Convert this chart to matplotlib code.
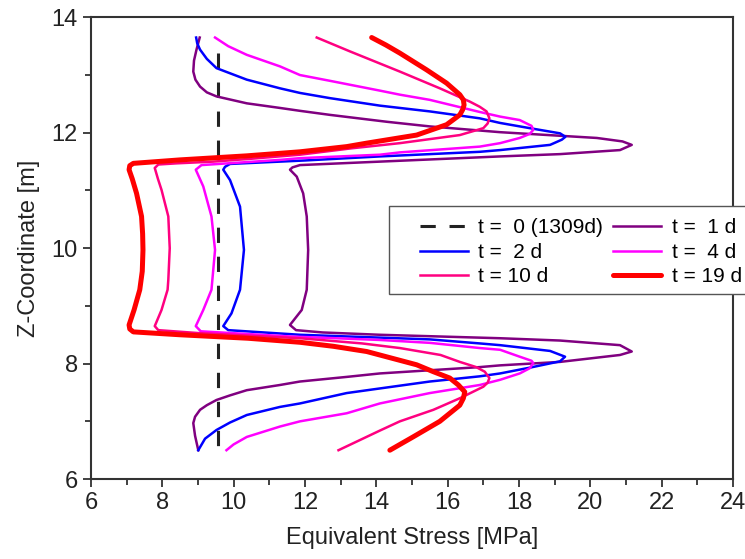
import matplotlib
matplotlib.use("Agg")
import matplotlib.pyplot as plt
from matplotlib.patches import Rectangle
from matplotlib.ticker import MultipleLocator

plt.rcParams['font.family'] = ['Liberation Sans', 'DejaVu Sans']

# stress profiles along z (z in m, stress in MPa)
z_t1 = [13.65, 13.44, 13.25, 13.06, 12.92, 12.80, 12.70, 12.63, 12.51, 12.43, 12.38, 12.31,
        12.19, 12.11, 12.01, 11.91, 11.85, 11.79, 11.70, 11.63, 11.59, 11.50, 11.44, 11.40,
        11.36, 11.24, 10.95, 10.55, 9.97, 9.28, 8.93, 8.67, 8.58, 8.54, 8.50, 8.44, 8.40,
        8.32, 8.21, 8.15, 8.03, 7.97, 7.94, 7.83, 7.77, 7.69, 7.63, 7.54, 7.45, 7.37, 7.28,
        7.20, 7.08, 6.97, 6.75, 6.50]
s_t1 = [9.05, 8.96, 8.89, 8.87, 8.93, 9.06, 9.25, 9.52, 10.37, 11.30, 11.86, 12.70,
        14.30, 15.50, 17.47, 20.18, 20.90, 21.16, 20.83, 19.15, 17.47, 14.10, 11.86, 11.65,
        11.58, 11.77, 11.95, 12.05, 12.09, 12.05, 11.91, 11.58, 11.75, 12.50, 14.10, 17.47,
        19.15, 20.83, 21.16, 20.83, 19.15, 17.47, 16.90, 14.10, 13.17, 11.86, 11.30, 10.37,
        9.90, 9.52, 9.25, 9.06, 8.92, 8.87, 8.92, 9.01]

z_t2 = [13.65, 13.55, 13.44, 13.28, 13.12, 12.92, 12.77, 12.69, 12.60, 12.47, 12.43, 12.37,
        12.25, 12.17, 12.08, 11.99, 11.93, 11.88, 11.79, 11.70, 11.67, 11.59, 11.52, 11.46,
        11.41, 11.36, 11.18, 10.72, 9.97, 9.28, 8.87, 8.65, 8.58, 8.50, 8.42, 8.35, 8.32,
        8.22, 8.12, 8.04, 7.93, 7.83, 7.78, 7.69, 7.57, 7.49, 7.31, 7.25, 7.11, 6.98, 6.85,
        6.70, 6.50]
s_t2 = [8.95, 8.98, 9.06, 9.25, 9.52, 10.37, 11.30, 11.86, 12.70, 14.10, 14.66, 15.50,
        16.90, 17.47, 18.30, 19.15, 19.30, 19.20, 18.87, 17.47, 16.90, 14.10, 12.00, 9.90,
        9.76, 9.71, 9.90, 10.18, 10.29, 10.18, 9.94, 9.71, 9.85, 11.86, 15.50, 16.90, 17.47,
        18.87, 19.29, 19.15, 18.30, 17.47, 16.90, 15.50, 14.10, 13.17, 11.86, 11.30, 10.37,
        9.90, 9.52, 9.20, 9.01]

z_t4 = [13.65, 13.50, 13.35, 13.15, 13.00, 12.90, 12.73, 12.66, 12.57, 12.36, 12.28, 12.22,
        12.12, 12.05, 11.98, 11.91, 11.82, 11.76, 11.66, 11.62, 11.56, 11.53, 11.44, 11.36,
        11.07, 10.55, 9.97, 9.28, 8.93, 8.65, 8.56, 8.47, 8.41, 8.36, 8.27, 8.24, 8.12, 8.05,
        8.01, 7.92, 7.83, 7.72, 7.63, 7.49, 7.31, 7.14, 7.00, 6.91, 6.73, 6.60, 6.50]
s_t4 = [9.48, 9.85, 10.37, 11.30, 11.86, 12.70, 14.10, 14.66, 15.50, 16.90, 17.47, 18.02,
        18.35, 18.40, 18.30, 18.02, 17.47, 16.90, 14.66, 14.10, 11.86, 11.30, 9.10, 8.94,
        9.15, 9.38, 9.48, 9.38, 9.15, 8.94, 9.08, 11.60, 14.10, 15.50, 16.90, 17.47, 18.02,
        18.35, 18.40, 18.30, 18.02, 17.47, 16.90, 15.50, 14.10, 13.17, 11.86, 11.30, 10.37,
        10.00, 9.80]

z_t10 = [13.65, 13.41, 13.06, 12.77, 12.54, 12.45, 12.37, 12.25, 12.16, 12.08, 11.96, 11.82,
         11.73, 11.62, 11.55, 11.50, 11.47, 11.45, 11.39, 11.20, 11.01, 10.55, 10.00, 9.45,
         9.28, 8.93, 8.65, 8.58, 8.53, 8.44, 8.35, 8.27, 8.15, 8.03, 7.94, 7.86, 7.75, 7.67,
         7.60, 7.40, 7.20, 7.00, 6.84, 6.50]
s_t10 = [12.33, 13.26, 14.66, 15.78, 16.62, 16.90, 17.09, 17.17, 17.12, 17.00, 16.34, 14.66,
         13.30, 11.86, 10.50, 9.43, 8.40, 7.89, 7.79, 7.88, 7.98, 8.17, 8.21, 8.17,
         8.15, 7.98, 7.79, 7.89, 9.00, 11.86, 13.60, 14.66, 15.80, 16.34, 16.80, 17.04, 17.17,
         17.12, 17.00, 16.34, 15.60, 14.66, 14.10, 12.94]

z_t19 = [13.65, 13.52, 13.38, 13.09, 12.86, 12.66, 12.57, 12.48, 12.40, 12.31, 12.14, 11.96,
         11.82, 11.76, 11.67, 11.60, 11.53, 11.47, 11.43, 11.36, 11.20, 10.95, 10.55, 10.25,
         9.97, 9.60, 9.28, 8.93, 8.67, 8.60, 8.55, 8.50, 8.44, 8.37, 8.30, 8.21, 7.98, 7.86,
         7.75, 7.63, 7.51, 7.40, 7.28, 7.00, 6.73, 6.50]
s_t19 = [13.87, 14.27, 14.66, 15.41, 15.97, 16.34, 16.44, 16.46, 16.42, 16.34, 15.97, 15.13,
         13.73, 13.17, 11.86, 10.37, 8.50, 7.19, 7.09, 7.07, 7.16, 7.28, 7.42, 7.45,
         7.46, 7.44, 7.37, 7.21, 7.07, 7.09, 7.19, 8.50, 10.40, 11.86, 12.80, 13.73, 15.13,
         15.60, 16.06, 16.30, 16.48, 16.44, 16.34, 15.78, 15.03, 14.38]

z_t0 = [13.38, 6.50]
s_t0 = [9.55, 9.55]

labels = ['t =  0 (1309d)', 't =  1 d', 't =  2 d', 't =  4 d', 't = 10 d', 't = 19 d']

fig = plt.figure(figsize=(7.45, 5.59), dpi=100)
ax = fig.add_axes([0.122, 0.143, 0.862, 0.826])

dark = '#333333'
h0, = ax.plot(s_t0, z_t0, color='#222222', lw=2.2, linestyle=(0, (5, 4.5)))
h1, = ax.plot(s_t1, z_t1, color='#800080', lw=1.8)
h2, = ax.plot(s_t2, z_t2, color='#0000ff', lw=1.8)
h4, = ax.plot(s_t4, z_t4, color='#ff00ff', lw=1.8)
h10, = ax.plot(s_t10, z_t10, color='#ff0080', lw=1.8)
h19, = ax.plot(s_t19, z_t19, color='#ff0000', lw=3.6, solid_joinstyle='round',
               solid_capstyle='round')

ax.set_xlim(6, 24)
ax.set_ylim(6, 14)
ax.xaxis.set_major_locator(MultipleLocator(2))
ax.xaxis.set_minor_locator(MultipleLocator(1))
ax.yaxis.set_major_locator(MultipleLocator(2))
ax.yaxis.set_minor_locator(MultipleLocator(1))
ax.tick_params(which='both', direction='out', colors=dark, labelcolor='#222222',
               labelsize=17, width=1.3, top=False, right=False)
ax.tick_params(which='major', length=6)
ax.tick_params(which='minor', length=4)
for sp in ax.spines.values():
    sp.set_color(dark)
    sp.set_linewidth(1.5)

ax.set_xlabel('Equivalent Stress [MPa]', fontsize=17, color='#222222', labelpad=9)
ax.set_ylabel('Z-Coordinate [m]', fontsize=17, color='#222222', labelpad=8)

# legend frame, runs off the right edge like in the original
ax.add_patch(Rectangle((0.464, 0.401), 0.6, 0.191, transform=ax.transAxes,
                       facecolor='white', edgecolor='#555555', lw=1.0,
                       clip_on=False, zorder=4))
leg = ax.legend([h0, h2, h10, h1, h4, h19],
                [labels[0], labels[2], labels[4], labels[1], labels[3], labels[5]],
                ncol=2, loc='upper left', bbox_to_anchor=(0.512, 0.565),
                frameon=False, fontsize=15, handlelength=2.3, handletextpad=0.5,
                columnspacing=0.5, labelspacing=0.27, borderpad=0, borderaxespad=0)
leg.set_zorder(5)

fig.savefig('out.png', dpi=100)
